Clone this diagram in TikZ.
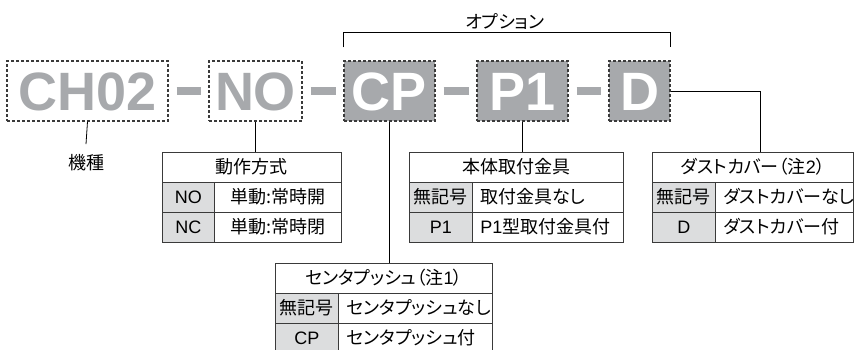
\documentclass[tikz,border=0pt]{standalone}
\usepackage{fontspec}
\setmainfont{Noto Sans CJK JP}[RawFeature=+palt]
\newfontfamily\codefont{Liberation Sans}
\definecolor{codegray}{HTML}{A7A9AC}
\definecolor{cellgray}{HTML}{DCDDDE}
\definecolor{rulegray}{HTML}{3A3A3A}
\tikzset{
  code/.style={draw=rulegray, dash pattern=on 3pt off 2pt, line width=1.1pt,
    minimum height=60pt, inner sep=0pt, text height=39pt, text depth=0pt,
    font=\codefont\bfseries\fontsize{54}{54}\selectfont},
  base code/.style={code, text=codegray},
  opt code/.style={code, fill=codegray, text=white},
  sep/.style={codegray, line width=7.5pt},
  link/.style={black, line width=0.8pt},
  cell/.style={draw=rulegray, line width=0.8pt, minimum height=30pt, inner sep=0pt,
    anchor=north west, text height=14.5pt, text depth=2pt},
  key/.style={cell, fill=cellgray},
  val/.style={cell, align=left, inner xsep=8pt}
}
\newcommand\lat[1]{{\codefont #1}}
\begin{document}
\begin{tikzpicture}[x=1pt, y=-1pt, font=\fontsize{18}{18}\selectfont]
\useasboundingbox (0,0) rectangle (854,349);
\clip (0,0) rectangle (854,349);
% --- model code boxes
\node[base code, minimum width=161pt] (ch) at (87.5,91) {CH02};
\node[base code, minimum width=93pt]  (no) at (255.5,91) {NO};
\node[opt code, minimum width=91pt]   (cp) at (389.5,91) {CP};
\node[opt code, minimum width=91pt]   (p1) at (522.5,91) {P1};
\node[opt code, minimum width=61pt]   (d)  at (639.5,91) {D};
\foreach \a/\b in {ch/no,no/cp,cp/p1,p1/d}
  \draw[sep] ([xshift=8pt]\a.east) -- ([xshift=-7pt]\b.west);
% --- option bracket
\node (opt) at (505,22) {オプション};
\draw[link] ([yshift=13pt]cp.north west) |- ([yshift=28pt]d.north east) -- ([yshift=13pt]d.north east);
% --- model
\node (kishu) at (86,163) {機種};
\draw[link] (ch.south) -- ([yshift=7pt]kishu.north);
% --- action table
\node[cell, minimum width=179pt] (noHead) at (162,152) {動作方式};
\node[key, minimum width=52pt] (noK1) at (162,182) {\lat{NO}};
\node[key, minimum width=52pt] (noK2) at (162,212) {\lat{NC}};
\node[cell, minimum width=127pt] (noV1) at (214,182) {単動:常時開};
\node[cell, minimum width=127pt] (noV2) at (214,212) {単動:常時閉};
\draw[link] (no.south) -- (no.south |- noHead.north);
% --- center push table
\node[cell, minimum width=217pt] (cpHead) at (275,263) {センタプッシュ（注\lat{1}）};
\node[key, minimum width=63pt] (cpK1) at (275,293) {無記号};
\node[key, minimum width=63pt] (cpK2) at (275,323) {\lat{CP}};
\node[val, text width=138pt] (cpV1) at (338,293) {センタプッシュなし};
\node[val, text width=138pt] (cpV2) at (338,323) {センタプッシュ付};
\draw[link] (cp.south) -- (cp.south |- cpHead.north);
% --- bracket table
\node[cell, minimum width=214pt] (p1Head) at (409,152) {本体取付金具};
\node[key, minimum width=63pt] (p1K1) at (409,182) {無記号};
\node[key, minimum width=63pt] (p1K2) at (409,212) {\lat{P1}};
\node[val, text width=135pt] (p1V1) at (472,182) {取付金具なし};
\node[val, text width=135pt] (p1V2) at (472,212) {\lat{P1}型取付金具付};
\draw[link] (p1.south) -- (p1.south |- p1Head.north);
% --- dust cover table
\node[cell, minimum width=201pt] (dHead) at (652,152) {ダストカバー（注\lat{2}）};
\node[key, minimum width=63pt] (dK1) at (652,182) {無記号};
\node[key, minimum width=63pt] (dK2) at (652,212) {\lat{D}};
\node[val, text width=122pt] (dV1) at (715,182) {ダストカバーなし};
\node[val, text width=122pt] (dV2) at (715,212) {ダストカバー付};
\draw[link] (d.east) -| ([xshift=7.5pt]dHead.north);
\end{tikzpicture}
\end{document}
